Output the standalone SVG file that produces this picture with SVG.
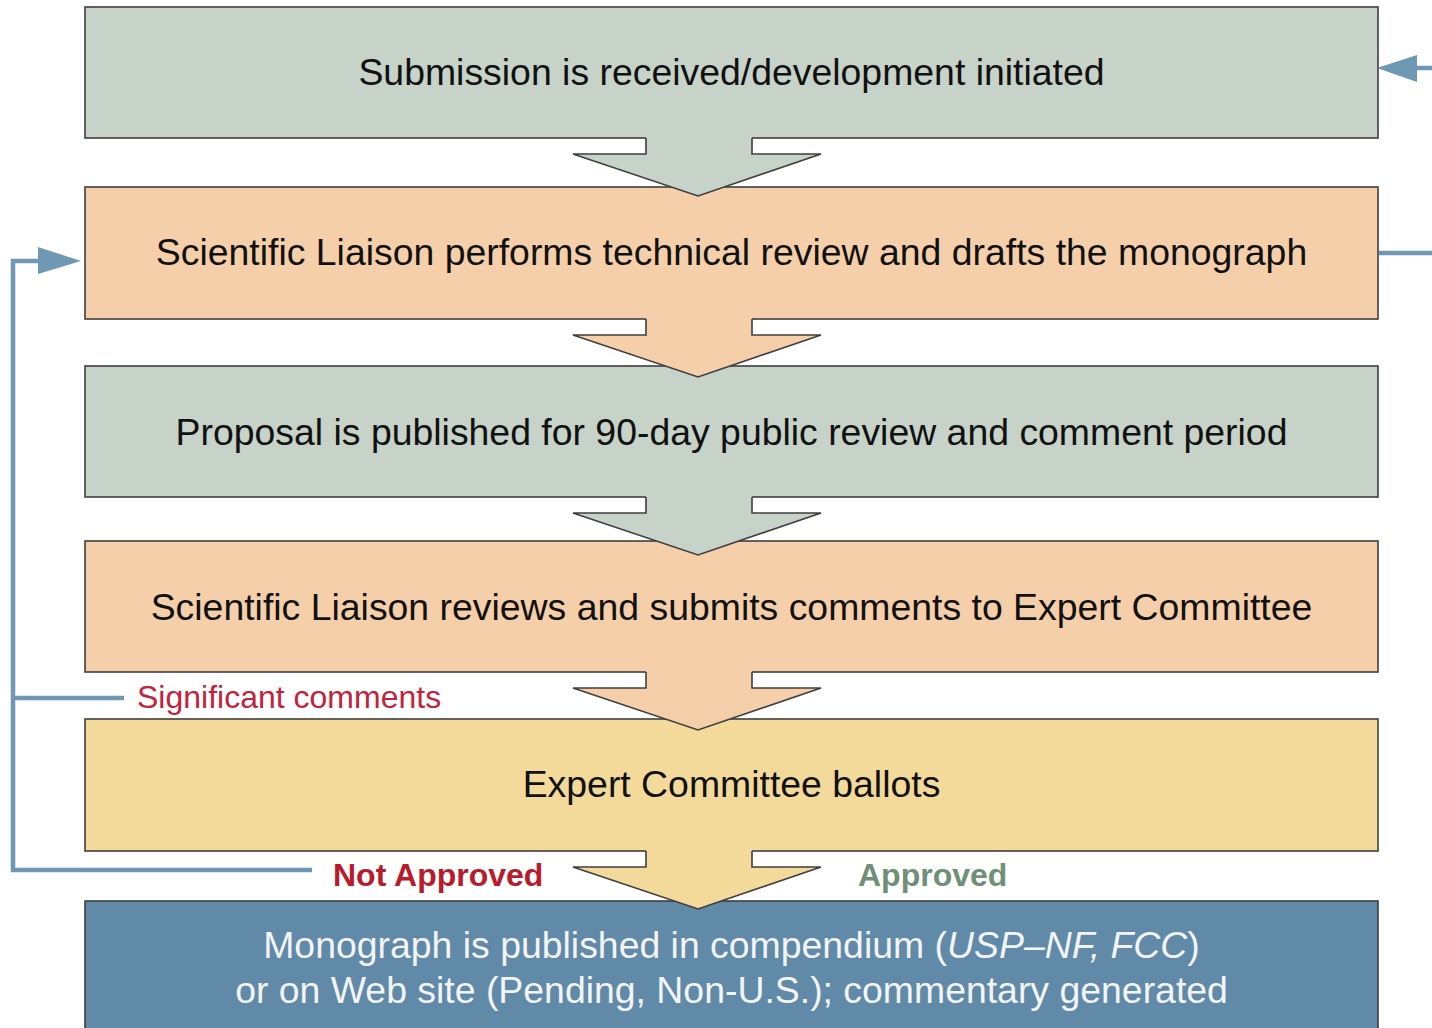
<svg xmlns="http://www.w3.org/2000/svg" width="1432" height="1028" viewBox="0 0 1432 1028">
  <defs>
    <style>
      .box { stroke: #3f3f3f; stroke-width: 1.6; }
      .grey { fill: #c7d2c9; }
      .peach { fill: #f5cfa9; }
      .yellow { fill: #f3da9b; }
      .blue { fill: #6189a8; }
      .lbl { font-family: "Liberation Sans", Arial, sans-serif; font-size: 37.4px; fill: #111; text-anchor: middle; }
      .lbl.light { fill: #f2f4f6; }
      .wire { fill: none; stroke: #6f98b4; stroke-width: 4.5; }
      .head { fill: #6f98b4; }
      .down-edge { fill: none; stroke: #3f3f3f; stroke-width: 1.6; stroke-linejoin: miter; }
      .note { font-family: "Liberation Sans", Arial, sans-serif; font-size: 32px; }
    </style>
    <!-- block arrow shape, drawn from the bottom edge of a box (y = 0) -->
    <polygon id="arrow-fill" points="646,-1 646,16 573,16 698,58 821,16 752,16 752,-1"/>
    <polyline id="arrow-edge" points="646,0 646,16 573,16 698,58 821,16 752,16 752,0"/>
  </defs>

  <rect width="1432" height="1028" fill="#ffffff"/>

  <!-- feedback connectors -->
  <g id="connectors">
    <!-- loop back to technical review -->
    <polyline class="wire" points="124,698 13,698"/>
    <polyline class="wire" points="312,870 13,870 13,261 40,261"/>
    <polygon class="head" points="38,247 81,261 38,274"/>
    <!-- return path on the right side -->
    <polyline class="wire" points="1379,253 1436,253 1436,68 1412,68"/>
    <polygon class="head" points="1417,55 1377,68 1417,82"/>
  </g>

  <g id="node-submission">
    <rect class="box grey" x="85" y="7" width="1293" height="131"/>
    <text class="lbl" x="731.5" y="85">Submission is received/development initiated</text>
  </g>

  <g id="node-technical-review">
    <rect class="box peach" x="85" y="187" width="1293" height="132"/>
    <text class="lbl" x="731.5" y="265">Scientific Liaison performs technical review and drafts the monograph</text>
  </g>

  <g id="node-public-review">
    <rect class="box grey" x="85" y="366" width="1293" height="131"/>
    <text class="lbl" x="731.5" y="445">Proposal is published for 90-day public review and comment period</text>
  </g>

  <g id="node-comments">
    <rect class="box peach" x="85" y="541" width="1293" height="131"/>
    <text class="lbl" x="731.5" y="620">Scientific Liaison reviews and submits comments to Expert Committee</text>
  </g>

  <g id="node-ballot">
    <rect class="box yellow" x="85" y="719" width="1293" height="132"/>
    <text class="lbl" x="731.5" y="797">Expert Committee ballots</text>
  </g>

  <g id="node-published">
    <rect class="box blue" x="85" y="901" width="1293" height="140"/>
    <text class="lbl light" x="731.5" y="958">Monograph is published in compendium (<tspan font-style="italic">USP–NF, FCC</tspan>)</text>
    <text class="lbl light" x="731.5" y="1003">or on Web site (Pending, Non-U.S.); commentary generated</text>
  </g>

  <!-- block arrows between steps -->
  <g id="flow-arrows">
    <g transform="translate(0,138)">
      <use href="#arrow-fill" class="grey"/>
      <use href="#arrow-edge" class="down-edge"/>
    </g>
    <g transform="translate(0,319)">
      <use href="#arrow-fill" class="peach"/>
      <use href="#arrow-edge" class="down-edge"/>
    </g>
    <g transform="translate(0,497)">
      <use href="#arrow-fill" class="grey"/>
      <use href="#arrow-edge" class="down-edge"/>
    </g>
    <g transform="translate(0,672)">
      <use href="#arrow-fill" class="peach"/>
      <use href="#arrow-edge" class="down-edge"/>
    </g>
    <g transform="translate(0,851)">
      <use href="#arrow-fill" class="yellow"/>
      <use href="#arrow-edge" class="down-edge"/>
    </g>
  </g>

  <g id="labels">
    <text class="note" x="137" y="708" fill="#c4223b">Significant comments</text>
    <text class="note" x="333" y="886" fill="#b81c2c" font-weight="bold">Not Approved</text>
    <text class="note" x="858" y="886" fill="#6f8f78" font-weight="bold">Approved</text>
  </g>
</svg>
